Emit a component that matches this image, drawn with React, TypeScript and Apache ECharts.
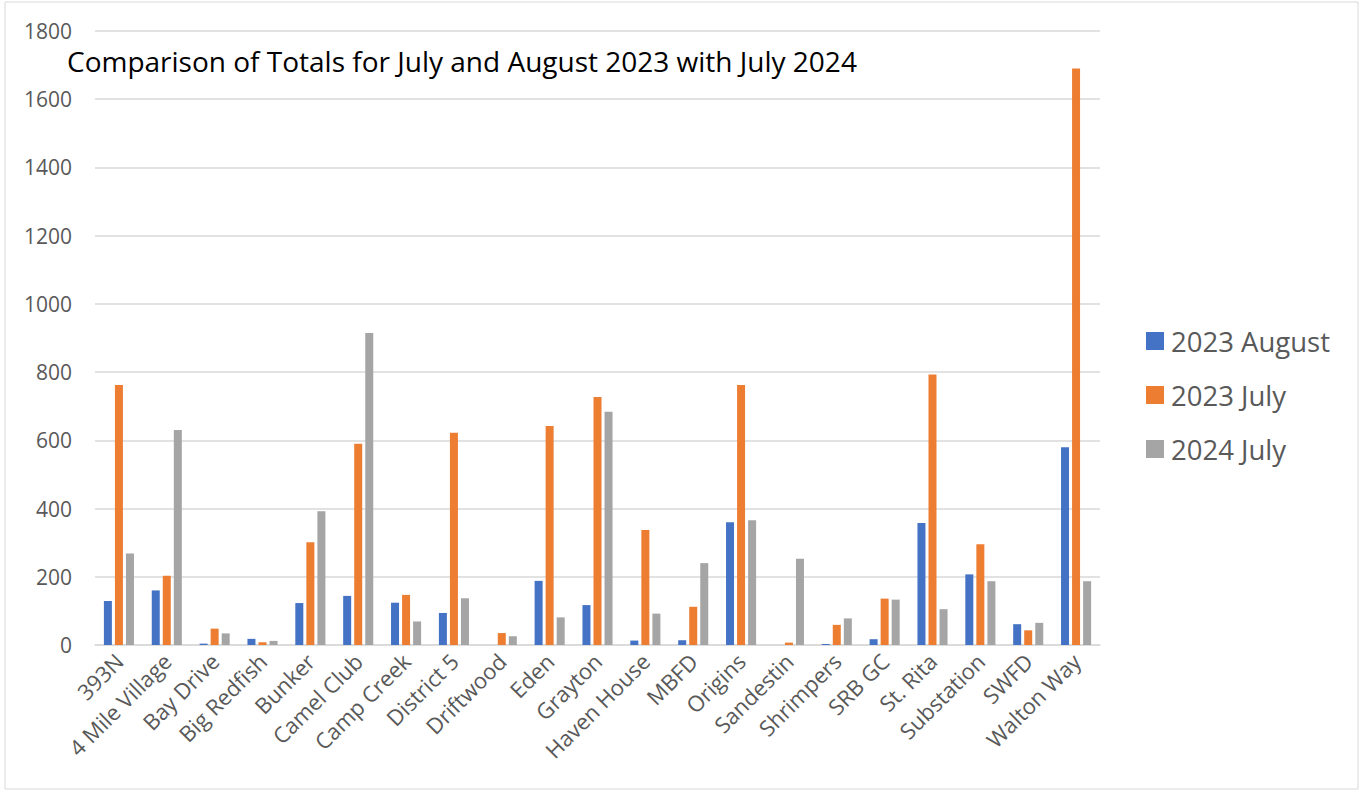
import React, { useEffect, useRef } from "react";
import * as echarts from "echarts";

const categories = [
  "393N", "4 Mile Village", "Bay Drive", "Big Redfish", "Bunker", "Camel Club",
  "Camp Creek", "District 5", "Driftwood", "Eden", "Grayton", "Haven House",
  "MBFD", "Origins", "Sandestin", "Shrimpers", "SRB GC", "St. Rita",
  "Substation", "SWFD", "Walton Way",
];
const aug2023 = [129, 160, 4, 18, 123, 144, 124, 94, 0, 188, 117, 13, 14, 360, 0, 3, 17, 358, 207, 61, 580];
const jul2023 = [762, 203, 48, 8, 301, 590, 147, 622, 35, 642, 727, 337, 112, 762, 7, 59, 136, 793, 295, 43, 1690];
const jul2024 = [268, 630, 34, 12, 392, 915, 69, 137, 26, 81, 684, 92, 240, 366, 253, 78, 133, 105, 187, 65, 187];
const seriesNames = ["2023 August", "2023 July", "2024 July"];
const colors = ["#4472C4", "#ED7D31", "#A5A5A5"];
const titleText = "Comparison of Totals for July and August 2023 with July 2024";

export default function App() {
  const ref = useRef<HTMLDivElement>(null);
  useEffect(() => {
    if (!ref.current) return;
    const chart = echarts.init(ref.current, null, { renderer: "svg" });
    const data = [aug2023, jul2023, jul2024];
    chart.setOption({
      animation: false,
      backgroundColor: "#ffffff",
      textStyle: { fontFamily: "Open Sans" },
      title: {
        text: titleText,
        left: 62,
        top: 38,
        textStyle: { fontSize: 28, lineHeight: 36, fontWeight: "normal", color: "#000000", fontFamily: "Open Sans" },
      },
      legend: {
        orient: "vertical",
        left: 1141,
        top: 322,
        itemWidth: 18,
        itemHeight: 18,
        itemGap: 26,
        icon: "rect",
        data: seriesNames,
        textStyle: { fontSize: 27.5, lineHeight: 28, color: "#595959", fontFamily: "Open Sans", padding: [0, 0, 0, 2] },
      },
      grid: { left: 95, right: 265, top: 31, bottom: 145, containLabel: false },
      xAxis: {
        type: "category",
        data: categories,
        axisLine: { lineStyle: { color: "#d9d9d9", width: 1.5 } },
        axisTick: { show: false },
        axisLabel: { rotate: 45, interval: 0, fontSize: 22, color: "#595959", margin: 12, fontFamily: "Open Sans" },
      },
      yAxis: {
        type: "value",
        min: 0,
        max: 1800,
        interval: 200,
        axisLine: { show: false },
        axisTick: { show: false },
        splitLine: { lineStyle: { color: "#d9d9d9", width: 1.5 } },
        axisLabel: { fontSize: 21, color: "#595959", margin: 23, fontFamily: "Open Sans", formatter: (v: number) => String(v) },
      },
      graphic: [
        {
          type: "rect",
          shape: { x: 5, y: 2, width: 1353, height: 787 },
          style: { fill: "none", stroke: "#d9d9d9", lineWidth: 1 },
          silent: true,
        },
      ],
      series: seriesNames.map((name, i) => ({
        name,
        type: "bar",
        data: data[i],
        barWidth: 8,
        barGap: "38%",
        itemStyle: { color: colors[i] },
      })),
    });
    return () => chart.dispose();
  }, []);
  return (
    <div
      ref={ref}
      style={{ position: "fixed", left: 0, top: 0, width: 1365, height: 790 }}
    />
  );
}
